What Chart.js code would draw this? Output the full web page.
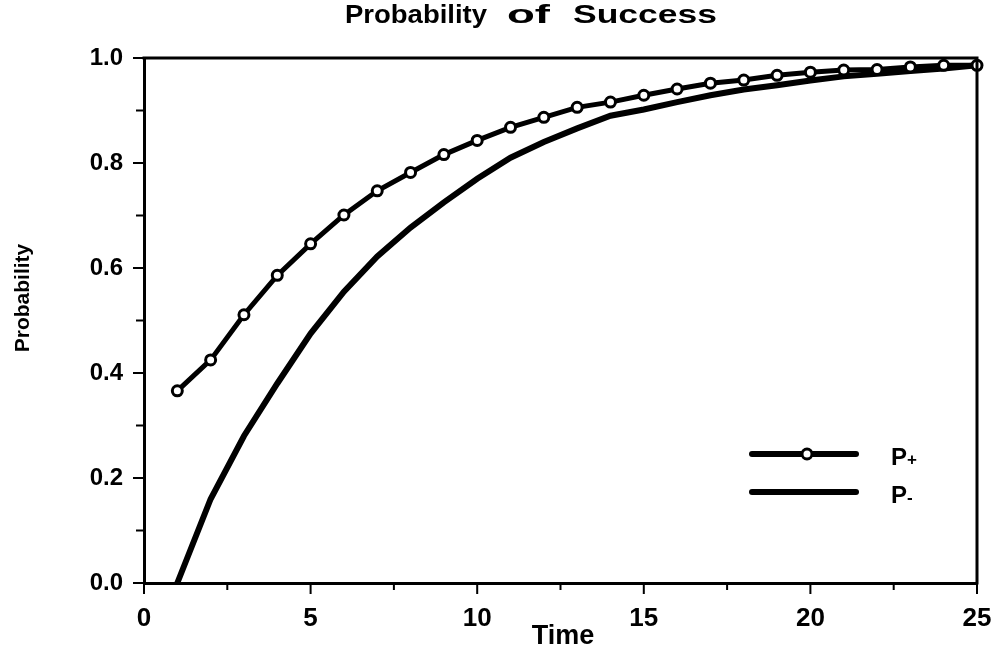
<!DOCTYPE html>
<html>
<head>
<meta charset="utf-8">
<script src="https://cdn.jsdelivr.net/npm/chart.js@4/dist/chart.umd.min.js"></script>
<style>
  html, body { margin: 0; padding: 0; background: #fff; }
  #wrap { width: 995px; height: 650px; }
</style>
</head>
<body>
<div id="wrap"><canvas id="c" width="995" height="650"></canvas></div>
<script>
const timeSteps = [1,2,3,4,5,6,7,8,9,10,11,12,13,14,15,16,17,18,19,20,21,22,23,24,25];
const pPlus  = [0.366,0.425,0.511,0.586,0.646,0.701,0.747,0.782,0.816,0.843,0.868,0.887,0.906,0.916,0.929,0.941,0.952,0.958,0.967,0.973,0.977,0.978,0.983,0.986,0.986];
const pMinus = [0.0,0.16,0.28,0.38,0.475,0.555,0.622,0.677,0.725,0.77,0.81,0.84,0.866,0.89,0.902,0.916,0.929,0.94,0.948,0.957,0.965,0.97,0.975,0.98,0.986];
const seriesNames = ['P+', 'P-'];
const titleWords = ['Probability', 'of', 'Success'];
const xTitle = 'Time';
const yTitle = 'Probability';
const xTickValues = [0, 5, 10, 15, 20, 25];
const yTickValues = [0, 0.2, 0.4, 0.6, 0.8, 1.0];

const FONT = "'Liberation Sans', Arial, Helvetica, sans-serif";

const isMajor = (v, list) => list.some(t => Math.abs(t - v) < 1e-6);

const framePlugin = {
  id: 'frame',
  afterDatasetsDraw(chart) {
    const {ctx, chartArea: a} = chart;
    const xs = chart.scales.x, ys = chart.scales.y;
    ctx.save();
    ctx.strokeStyle = '#000';
    ctx.lineWidth = 3;
    ctx.lineCap = 'square';
    ctx.beginPath();
    ctx.moveTo(a.left, a.top);
    ctx.lineTo(a.right, a.top);
    ctx.lineTo(a.right, a.bottom);
    ctx.stroke();
    // tick marks (major longer than minor), from the library's own tick lists
    ctx.lineWidth = 2;
    ctx.lineCap = 'butt';
    ctx.beginPath();
    xs.ticks.forEach(t => {
      const px = xs.getPixelForValue(t.value);
      const len = isMajor(t.value, xTickValues) ? 11 : 7;
      ctx.moveTo(px, a.bottom);
      ctx.lineTo(px, a.bottom + len);
    });
    ys.ticks.forEach(t => {
      const py = ys.getPixelForValue(t.value);
      const len = isMajor(t.value, yTickValues) ? 11 : 8;
      ctx.moveTo(a.left, py);
      ctx.lineTo(a.left - len, py);
    });
    ctx.stroke();
    ctx.restore();
  }
};

const textPlugin = {
  id: 'texts',
  afterDraw(chart) {
    const {ctx} = chart;
    ctx.save();
    ctx.fillStyle = '#000';
    ctx.textBaseline = 'alphabetic';
    // Title: each word stretched to the wide heavy face of the original
    ctx.font = "bold 25px " + FONT;
    const boxes = [[345, 487], [507, 550], [573, 717]];
    titleWords.forEach((w, i) => {
      const [l, r] = boxes[i];
      const m = ctx.measureText(w).width;
      ctx.save();
      ctx.translate(l, 23);
      ctx.scale((r - l) / m, 1);
      ctx.textAlign = 'left';
      ctx.fillText(w, 0, 0);
      ctx.restore();
    });
    // x title
    ctx.font = "bold 27px " + FONT;
    ctx.textAlign = 'center';
    ctx.fillText(xTitle, 563, 644);
    // y title
    ctx.save();
    ctx.translate(29, 298);
    ctx.rotate(-Math.PI / 2);
    ctx.font = "bold 21px " + FONT;
    ctx.textAlign = 'center';
    ctx.fillText(yTitle, 0, 0);
    ctx.restore();
    ctx.restore();
  }
};

const legendPlugin = {
  id: 'customLegend',
  afterDraw(chart) {
    const {ctx} = chart;
    const x0 = 752, x1 = 856;
    const rows = [454, 492];
    ctx.save();
    chart.data.datasets.forEach((ds, i) => {
      const y = rows[i];
      ctx.strokeStyle = '#000';
      ctx.lineWidth = 6;
      ctx.lineCap = 'round';
      ctx.beginPath();
      ctx.moveTo(x0, y);
      ctx.lineTo(x1, y);
      ctx.stroke();
      if (ds.pointRadius > 0) {
        ctx.beginPath();
        ctx.arc(807, y, ds.pointRadius, 0, Math.PI * 2);
        ctx.fillStyle = '#fff';
        ctx.fill();
        ctx.lineWidth = ds.pointBorderWidth;
        ctx.stroke();
      }
      ctx.fillStyle = '#000';
      ctx.textBaseline = 'alphabetic';
      ctx.textAlign = 'left';
      ctx.font = "bold 24px " + FONT;
      const first = ds.label.charAt(0);
      ctx.fillText(first, 891, y + 11);
      const w = ctx.measureText(first).width;
      ctx.font = "bold 17px " + FONT;
      ctx.fillText(ds.label.slice(1), 891 + w, y + 11);
    });
    ctx.restore();
  }
};

new Chart(document.getElementById('c'), {
  type: 'line',
  data: {
    datasets: [
      {
        label: seriesNames[0],
        data: timeSteps.map((t, i) => ({x: t, y: pPlus[i]})),
        borderColor: '#000',
        borderWidth: 5,
        tension: 0,
        pointRadius: 5,
        pointBorderWidth: 3,
        pointBackgroundColor: '#fff',
        pointBorderColor: '#000',
        clip: false
      },
      {
        label: seriesNames[1],
        data: timeSteps.map((t, i) => ({x: t, y: pMinus[i]})),
        borderColor: '#000',
        borderWidth: 6,
        tension: 0,
        pointRadius: 0,
        clip: false
      }
    ]
  },
  options: {
    responsive: false,
    animation: false,
    layout: { padding: { top: 58, right: 18, bottom: 0, left: 0 } },
    plugins: {
      legend: { display: false },
      tooltip: { enabled: false },
      title: { display: false }
    },
    scales: {
      x: {
        type: 'linear',
        min: 0, max: 25,
        afterFit(s) { s.height = 67; s.paddingLeft = 0; s.paddingRight = 0; },
        border: { display: true, color: '#000', width: 3 },
        grid: { drawOnChartArea: false, drawTicks: false },
        ticks: {
          stepSize: 2.5,
          autoSkip: false,
          maxRotation: 0,
          color: '#000',
          padding: 20,
          font: { family: FONT, size: 26, weight: 'bold' },
          callback: v => (isMajor(v, xTickValues) ? String(v) : '')
        },
        title: { display: false }
      },
      y: {
        type: 'linear',
        min: 0, max: 1,
        afterFit(s) { s.width = 144; s.paddingTop = 0; s.paddingBottom = 0; },
        border: { display: true, color: '#000', width: 3 },
        grid: { drawOnChartArea: false, drawTicks: false },
        ticks: {
          stepSize: 0.1,
          autoSkip: false,
          color: '#000',
          padding: 21,
          font: { family: FONT, size: 24, weight: 'bold' },
          callback: v => (isMajor(v, yTickValues) ? Number(v).toFixed(1) : '')
        },
        title: { display: false }
      }
    }
  },
  plugins: [framePlugin, textPlugin, legendPlugin]
});
</script>
</body>
</html>
